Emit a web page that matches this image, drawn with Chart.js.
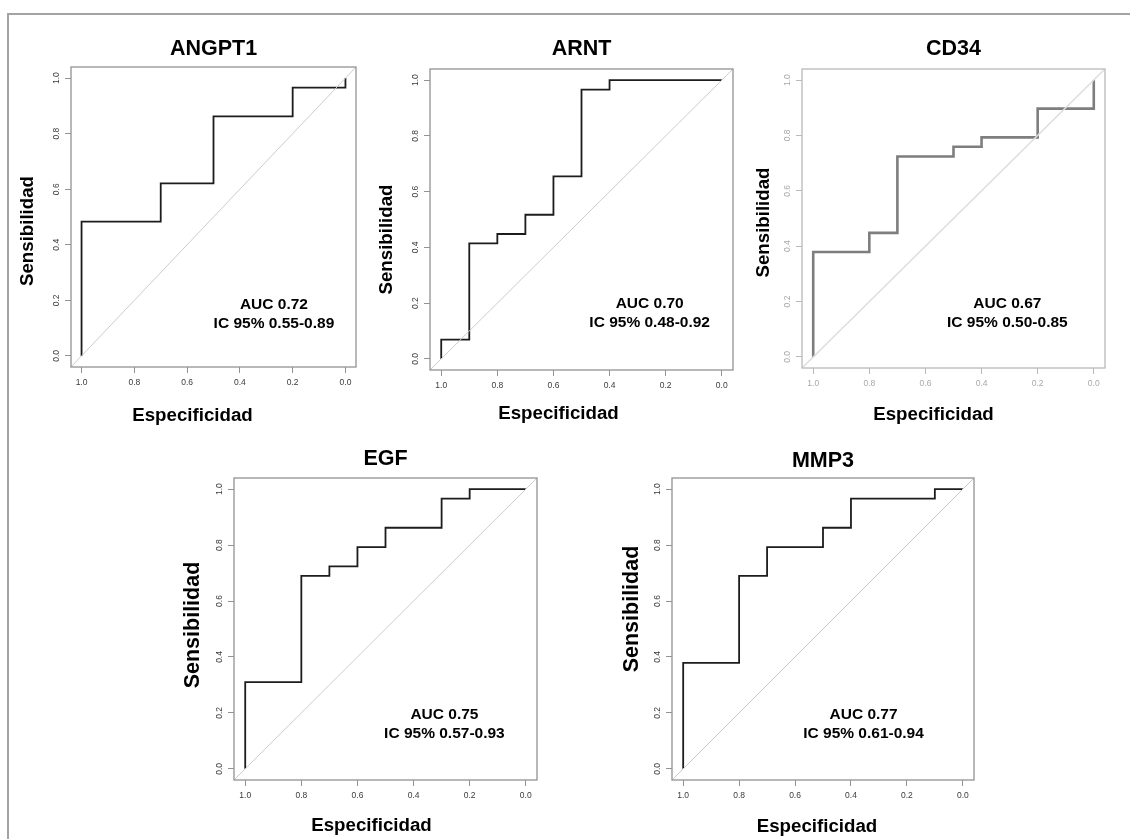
<!DOCTYPE html>
<html lang="es">
<head>
<meta charset="UTF-8">
<title>Curvas ROC</title>
<script src="https://cdn.jsdelivr.net/npm/chart.js"></script>
<style>
  body { margin: 0; background: #fff; width: 1130px; height: 839px; overflow: hidden; position: relative; }
  .frame { position: absolute; left: 7px; top: 13px; right: 0; bottom: 0; border-top: 2px solid #a3a3a3; border-left: 2px solid #a3a3a3; }
  canvas { position: absolute; }
</style>
</head>
<body>
<div class="frame"></div>
<script>
// --- datos (especificidad, sensibilidad) ---
const markers = ['ANGPT1', 'ARNT', 'CD34', 'EGF', 'MMP3'];
const aucValues = [0.72, 0.70, 0.67, 0.75, 0.77];
const ciLow = [0.55, 0.48, 0.50, 0.57, 0.61];
const ciHigh = [0.89, 0.92, 0.85, 0.93, 0.94];
const tickValues = [0, 0.2, 0.4, 0.6, 0.8, 1.0];

const angpt1Spec = [1.0, 0.7, 0.5, 0.2, 0.0, 0.0];
const angpt1Sens = [0.0, 0.483, 0.621, 0.862, 0.966, 1.0];
const arntSpec = [1.0, 0.9, 0.8, 0.7, 0.6, 0.5, 0.4, 0.0];
const arntSens = [0.0, 0.069, 0.414, 0.448, 0.517, 0.655, 0.966, 1.0];
const cd34Spec = [1.0, 0.8, 0.7, 0.5, 0.4, 0.2, 0.0, 0.0];
const cd34Sens = [0.0, 0.379, 0.448, 0.724, 0.759, 0.793, 0.897, 1.0];
const egfSpec = [1.0, 0.8, 0.7, 0.6, 0.5, 0.3, 0.2, 0.0];
const egfSens = [0.0, 0.310, 0.690, 0.724, 0.793, 0.862, 0.966, 1.0];
const mmp3Spec = [1.0, 0.8, 0.7, 0.5, 0.4, 0.1, 0.0];
const mmp3Sens = [0.0, 0.379, 0.690, 0.793, 0.862, 0.966, 1.0];

const rocSpec = [angpt1Spec, arntSpec, cd34Spec, egfSpec, mmp3Spec];
const rocSens = [angpt1Sens, arntSens, cd34Sens, egfSens, mmp3Sens];

// rango de los ejes como en R (4% extra a cada lado)
const axisMin = -0.04, axisMax = 1.04;

// --- posicion de cada panel (caja del grafico en pixeles de pagina) ---
const panelLayout = {
  ANGPT1: { box: [71, 67, 356, 367], titleGap: 18, xTitleGap: 49, xTitleShift: -21, yTitleGap: 43, yTitleShift: 14, yTitleSize: 18.7, aucAt: [0.271, 0.15] },
  ARNT:   { box: [430, 69, 733, 370], titleGap: 20, xTitleGap: 44, xTitleShift: -23, yTitleGap: 43, yTitleShift: 20, yTitleSize: 18.7, aucAt: [0.257, 0.165] },
  CD34:   { box: [802, 69, 1105, 368], titleGap: 20, xTitleGap: 47, xTitleShift: -20, yTitleGap: 38, yTitleShift: 4, yTitleSize: 18.7, aucAt: [0.308, 0.157], faded: true },
  EGF:    { box: [234, 478, 537, 780], titleGap: 19, xTitleGap: 46, xTitleShift: -14, yTitleGap: 41, yTitleShift: -4, yTitleSize: 21.5, aucAt: [0.29, 0.16] },
  MMP3:   { box: [672, 478, 974, 780], titleGap: 17, xTitleGap: 47, xTitleShift: -6, yTitleGap: 40, yTitleShift: -20, yTitleSize: 21.5, aucAt: [0.355, 0.16] }
};
const leftSpace = 64, topSpace = 52, bottomSpace = 60, rightSpace = 12;

const normalStyle = { curve: '#1c1c1c', curveWidth: 1.8, diag: '#cccccc', diagWidth: 1, box: '#929292', tick: '#3a3a3a' };
const fadedStyle = { curve: '#7e7e7e', curveWidth: 2.6, diag: '#dedede', diagWidth: 1.6, box: '#b9b9b9', tick: '#a8a8a8' };

const fontFamily = '"Liberation Sans", Arial, Helvetica, sans-serif';
Chart.defaults.font.family = fontFamily;

// marco de la caja y textos del panel
const rocText = {
  id: 'rocText',
  afterDraw(chart, args, opts) {
    const { ctx, chartArea: a, scales: { x, y } } = chart;
    ctx.save();
    ctx.strokeStyle = opts.boxColor;
    ctx.lineWidth = 1.3;
    ctx.strokeRect(a.left, a.top, a.right - a.left, a.bottom - a.top);

    const cx = (a.left + a.right) / 2;
    const cy = (a.top + a.bottom) / 2;
    ctx.fillStyle = '#000';
    ctx.textAlign = 'center';
    ctx.textBaseline = 'middle';

    ctx.font = 'bold 21.5px ' + fontFamily;
    ctx.fillText(opts.title, cx, a.top - opts.titleGap);

    ctx.font = 'bold 18.7px ' + fontFamily;
    ctx.fillText('Especificidad', cx + opts.xTitleShift, a.bottom + opts.xTitleGap);

    ctx.save();
    ctx.translate(a.left - opts.yTitleGap, cy + opts.yTitleShift);
    ctx.rotate(-Math.PI / 2);
    ctx.font = 'bold ' + opts.yTitleSize + 'px ' + fontFamily;
    ctx.fillText('Sensibilidad', 0, 0);
    ctx.restore();

    const px = x.getPixelForValue(opts.aucAt[0]);
    const py = y.getPixelForValue(opts.aucAt[1]);
    ctx.font = 'bold 15.5px ' + fontFamily;
    ctx.fillText(opts.lines[0], px, py - 9.5);
    ctx.fillText(opts.lines[1], px, py + 9.5);
    ctx.restore();
  }
};

function buildPanel(i) {
  const name = markers[i];
  const lay = panelLayout[name];
  const s = lay.faded ? fadedStyle : normalStyle;
  const [L, T, R, B] = lay.box;

  const canvas = document.createElement('canvas');
  canvas.width = R - L + leftSpace + rightSpace;
  canvas.height = B - T + topSpace + bottomSpace;
  canvas.style.left = (L - leftSpace) + 'px';
  canvas.style.top = (T - topSpace) + 'px';
  document.body.appendChild(canvas);

  const curve = rocSpec[i].map((v, k) => ({ x: v, y: rocSens[i][k] }));
  const chance = [{ x: axisMax, y: axisMin }, { x: axisMin, y: axisMax }];

  const tickOpts = {
    color: s.tick,
    font: { size: 8.5 },
    autoSkip: false,
    callback: v => Number(v).toFixed(1)
  };
  const gridOpts = { drawOnChartArea: false, drawTicks: true, tickLength: 6, color: s.box, lineWidth: 1 };

  new Chart(canvas, {
    type: 'scatter',
    data: {
      datasets: [
        { data: chance, showLine: true, borderColor: s.diag, borderWidth: s.diagWidth, pointRadius: 0 },
        { data: curve, showLine: true, stepped: 'after', borderColor: s.curve, borderWidth: s.curveWidth, pointRadius: 0 }
      ]
    },
    options: {
      responsive: false,
      animation: false,
      events: [],
      layout: { padding: { top: topSpace, right: rightSpace, left: 0, bottom: 0 } },
      plugins: {
        legend: { display: false },
        tooltip: { enabled: false },
        rocText: {
          title: name,
          boxColor: s.box,
          titleGap: lay.titleGap,
          xTitleGap: lay.xTitleGap,
          xTitleShift: lay.xTitleShift,
          yTitleGap: lay.yTitleGap,
          yTitleShift: lay.yTitleShift,
          yTitleSize: lay.yTitleSize,
          aucAt: lay.aucAt,
          lines: ['AUC ' + aucValues[i].toFixed(2), 'IC 95% ' + ciLow[i].toFixed(2) + '-' + ciHigh[i].toFixed(2)]
        }
      },
      scales: {
        x: {
          type: 'linear',
          reverse: true,
          min: axisMin,
          max: axisMax,
          afterBuildTicks: sc => { sc.ticks = tickValues.map(v => ({ value: v })); },
          afterFit: sc => { sc.height = bottomSpace; },
          grid: gridOpts,
          border: { display: false },
          ticks: Object.assign({ padding: 5, maxRotation: 0 }, tickOpts)
        },
        y: {
          type: 'linear',
          min: axisMin,
          max: axisMax,
          afterBuildTicks: sc => { sc.ticks = tickValues.map(v => ({ value: v })); },
          afterFit: sc => { sc.width = leftSpace; },
          grid: gridOpts,
          border: { display: false },
          ticks: Object.assign({ padding: 2, minRotation: 90, maxRotation: 90, crossAlign: 'center' }, tickOpts)
        }
      }
    },
    plugins: [rocText]
  });
}

markers.forEach((m, i) => buildPanel(i));
</script>
</body>
</html>
